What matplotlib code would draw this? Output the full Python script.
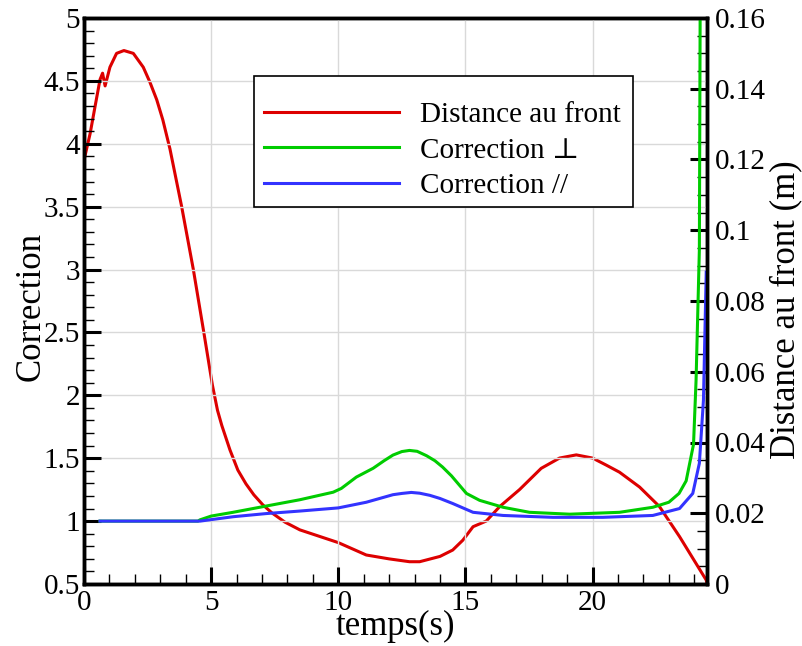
import numpy as np
import matplotlib
matplotlib.use('Agg')
import matplotlib.pyplot as plt
from matplotlib.ticker import MultipleLocator, FuncFormatter
from matplotlib.patches import Rectangle

plt.rcParams['font.family'] = ['Liberation Serif', 'DejaVu Serif']

# Distance au front (m), right axis
t_dist = [0.0, 0.24, 0.43, 0.63, 0.73, 0.83, 1.02, 1.28, 1.57, 1.94, 2.33,
          2.59, 2.86, 3.10, 3.38, 3.6, 3.84, 4.30, 4.715, 5.05, 5.25, 5.42,
          5.74, 6.05, 6.37, 6.68, 7.03, 7.39, 7.90, 8.49, 10.0, 11.1, 12.0,
          12.8, 13.2, 14.0, 14.5, 14.9, 15.3, 15.82, 16.35, 17.13, 17.98,
          18.7, 19.36, 20.0, 20.54, 21.06, 21.85, 22.63, 23.42, 24.47, 24.5]
dist = [0.1198, 0.1273, 0.1348, 0.1426, 0.1444, 0.1408, 0.1461, 0.1500,
        0.1508, 0.1500, 0.1461, 0.1419, 0.1369, 0.1312, 0.1230, 0.1152,
        0.1067, 0.0889, 0.0710, 0.0562, 0.0491, 0.0448, 0.0379, 0.0322,
        0.0283, 0.0252, 0.0224, 0.0201, 0.0175, 0.0153, 0.0117, 0.0082,
        0.0071, 0.0063, 0.0063, 0.0078, 0.0096, 0.0124, 0.0162, 0.0178,
        0.0219, 0.0267, 0.0327, 0.0356, 0.0365, 0.0356, 0.0336, 0.0316,
        0.0274, 0.0219, 0.0134, 0.0011, 0.0]

# Correction perpendiculaire, left axis
t_perp = [0.63, 4.48, 4.56, 5.0, 5.86, 7.17, 8.49, 9.8, 10.12, 10.71, 11.37,
          11.8, 12.15, 12.5, 12.8, 13.1, 13.47, 13.8, 14.1, 14.45, 15.04,
          15.56, 16.48, 17.52, 19.1, 21.06, 22.37, 23.0, 23.4, 23.68, 23.97,
          24.07, 24.2, 24.23, 24.25]
corr_perp = [1.0, 1.0, 1.01, 1.04, 1.07, 1.12, 1.17, 1.23, 1.26, 1.35, 1.42,
             1.48, 1.525, 1.553, 1.562, 1.555, 1.52, 1.48, 1.43, 1.36, 1.22,
             1.165, 1.11, 1.07, 1.055, 1.07, 1.11, 1.15, 1.22, 1.32, 1.61,
             2.12, 3.16, 5.0, 5.3]

# Correction parallele, left axis
t_par = [0.63, 4.48, 4.56, 5.87, 7.17, 8.49, 10.0, 11.1, 12.15, 12.5, 12.87,
         13.2, 13.6, 14.0, 14.5, 15.3, 16.48, 18.44, 20.4, 22.37, 23.42,
         23.94, 24.2, 24.36, 24.47]
corr_par = [1.0, 1.0, 1.0, 1.035, 1.06, 1.08, 1.105, 1.15, 1.21, 1.22, 1.228,
            1.222, 1.205, 1.18, 1.14, 1.07, 1.045, 1.03, 1.03, 1.045, 1.10,
            1.22, 1.46, 1.96, 2.98]

fig = plt.figure(figsize=(8.03, 6.46), dpi=100)
ax = fig.add_axes([84/803, 62/646, 623/803, 566/646])
ax2 = ax.twinx()

ax.set_xlim(0, 24.5)
ax.set_ylim(0.5, 5)
ax2.set_ylim(0, 0.16)

ax.grid(True, color='#d9d9d9', linewidth=1.0)
ax.set_axisbelow(True)

l2, = ax.plot(t_perp, corr_perp, color='#00cc00', lw=2.2, label='Correction \u22a5')
l3, = ax.plot(t_par, corr_par, color='#3333ff', lw=2.2, label='Correction //')
l1, = ax2.plot(t_dist, dist, color='#dd0000', lw=2.2, label='Distance au front')

fmt = FuncFormatter(lambda v, p: '%g' % round(v, 4))
ax.xaxis.set_major_locator(MultipleLocator(5))
ax.xaxis.set_minor_locator(MultipleLocator(1))
ax.yaxis.set_major_locator(MultipleLocator(0.5))
ax.yaxis.set_minor_locator(MultipleLocator(0.1))
ax2.yaxis.set_major_locator(MultipleLocator(0.02))
ax2.yaxis.set_minor_locator(MultipleLocator(0.005))
ax.xaxis.set_major_formatter(fmt)
ax.yaxis.set_major_formatter(fmt)
ax2.yaxis.set_major_formatter(fmt)

for a in (ax, ax2):
    a.tick_params(which='major', direction='in', length=12, width=2.2,
                  labelsize=21, pad=6)
    a.tick_params(which='minor', direction='in', length=7, width=1.0)
    for s in a.spines.values():
        s.set_linewidth(2.5)
ax.tick_params(axis='x', which='both', top=False)
ax.tick_params(axis='x', which='major', pad=4)
ax.tick_params(axis='y', which='both', right=False)
ax.tick_params(axis='y', which='major', pad=3)

ax.set_xlabel('temps(s)', fontsize=25)
ax.set_ylabel('Correction', fontsize=25)
ax2.set_ylabel('Distance au front (m)', fontsize=25)
ax.xaxis.set_label_coords(0.5, -0.045)
ax.yaxis.set_label_coords(-0.058, 0.49)
ax2.yaxis.set_label_coords(1.100, 0.484)

# legend box (white, square corners)
box = Rectangle((0.2729, 0.666), 0.6083, 0.2315, transform=ax.transAxes,
                facecolor='white', edgecolor='black', linewidth=1.2, zorder=4)
ax.add_patch(box)
leg = ax.legend([l1, l2, l3], [l1.get_label(), l2.get_label(), l3.get_label()],
                loc='upper left', bbox_to_anchor=(0.2889, 0.8527), fontsize=21,
                handlelength=4.62, handletextpad=0.72, labelspacing=0.32,
                borderpad=0, borderaxespad=0, frameon=False)
leg.set_zorder(5)
ax.set_zorder(ax2.get_zorder() + 1)
ax.patch.set_visible(False)

fig.savefig('out.png', dpi=100)
